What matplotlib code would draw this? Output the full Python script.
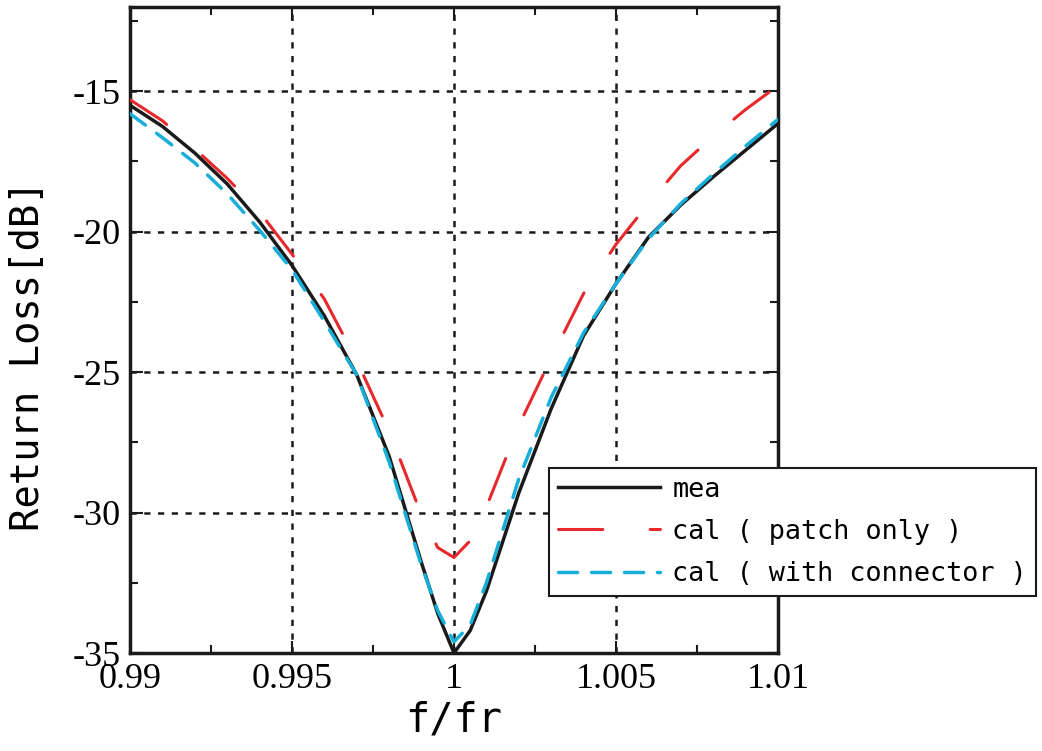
import numpy as np
import matplotlib
matplotlib.use('Agg')
import matplotlib.pyplot as plt
from matplotlib.ticker import MultipleLocator, FuncFormatter

# normalised frequency f/fr
freq = [0.990, 0.991, 0.992, 0.993, 0.994, 0.995, 0.996, 0.997, 0.998, 0.999, 0.9995,
        1.000, 1.0005, 1.001, 1.002, 1.003, 1.004, 1.005, 1.006, 1.007, 1.008, 1.009, 1.010]

# return loss [dB]
mea = [-15.5, -16.25, -17.2, -18.3, -19.65, -21.2, -23.0, -25.1, -28.0, -31.8, -33.6,
       -35.0, -34.2, -32.8, -29.3, -26.3, -23.7, -21.85, -20.2, -19.05, -18.05, -17.1, -16.15]
cal_patch = [-15.3, -16.05, -17.05, -18.1, -19.3, -20.8, -22.4, -24.6, -27.1, -30.1, -31.25,
             -31.6, -31.0, -29.8, -26.9, -24.5, -22.2, -20.45, -19.0, -17.65, -16.6, -15.65, -14.8]
cal_connector = [-15.8, -16.65, -17.55, -18.65, -19.95, -21.35, -23.2, -25.1, -28.2, -31.9, -33.5,
                 -34.6, -34.0, -32.5, -28.8, -25.9, -23.6, -21.85, -20.25, -19.0, -17.95, -16.95, -16.0]

labels = ['mea', 'cal ( patch only )', 'cal ( with connector )']
xticks = [0.99, 0.995, 1.0, 1.005, 1.01]
yticks = [-35, -30, -25, -20, -15]

plt.rcParams['axes.unicode_minus'] = False
serif = ['Liberation Serif', 'DejaVu Serif']
mono = ['DejaVu Sans Mono']

fig = plt.figure(figsize=(10.42, 7.51), dpi=100)
ax = fig.add_axes([130 / 1042, 1 - 653 / 751, 648 / 1042, 646 / 751])

# curves: measured first, calculations on top
ax.plot(freq, mea, color='#1a1a1a', lw=2.5, label=labels[0], zorder=3)
ax.plot(freq, cal_patch, color='#e8282b', lw=2.2, linestyle=(0, (14.5, 15.5)),
        dash_capstyle='round', label=labels[1], zorder=4)
ax.plot(freq, cal_connector, color='#17afd9', lw=2.5, linestyle=(0, (5.5, 4.0)),
        dash_capstyle='round', label=labels[2], zorder=5)

ax.set_xlim(0.99, 1.01)
ax.set_ylim(-35, -12)
ax.set_xticks(xticks)
ax.set_yticks(yticks)
ax.xaxis.set_minor_locator(MultipleLocator(0.0025))
ax.yaxis.set_minor_locator(MultipleLocator(2.5))
ax.xaxis.set_major_formatter(FuncFormatter(lambda v, p: '{:g}'.format(round(v, 4))))
ax.yaxis.set_major_formatter(FuncFormatter(lambda v, p: '{:g}'.format(v)))

# ticks inward on every side
ax.tick_params(which='both', direction='in', top=True, right=True, width=1.5, color='#1a1a1a')
ax.tick_params(which='major', length=9, pad=7)
ax.tick_params(which='minor', length=6)
for lab in ax.get_xticklabels() + ax.get_yticklabels():
    lab.set_family(serif)
    lab.set_fontsize(26)

for sp in ax.spines.values():
    sp.set_linewidth(2.5)
    sp.set_color('#1a1a1a')

# dotted grid at the major ticks
ax.grid(True, which='major', color='#1a1a1a', linestyle=(0, (2.5, 3)), linewidth=1.8, zorder=1)
ax.set_axisbelow(True)

ax.set_xlabel('f/fr', family=mono, fontsize=29, va='top')
ax.xaxis.set_label_coords(0.5, -0.073)
ax.set_ylabel('Return Loss[dB]', family=mono, fontsize=28)
ax.yaxis.set_label_coords(-0.128, 0.46)

leg = ax.legend(loc='upper left', bbox_to_anchor=(549 / 1042, 1 - 468 / 751),
                bbox_transform=fig.transFigure, borderaxespad=0, prop={'family': mono, 'size': 19.4},
                frameon=True, fancybox=False, framealpha=1, edgecolor='#1a1a1a',
                handlelength=3.8, handletextpad=0.45, borderpad=0.32, labelspacing=0.6)
leg.get_frame().set_linewidth(1.5)
leg.set_zorder(10)

fig.savefig('out.png', dpi=100)
